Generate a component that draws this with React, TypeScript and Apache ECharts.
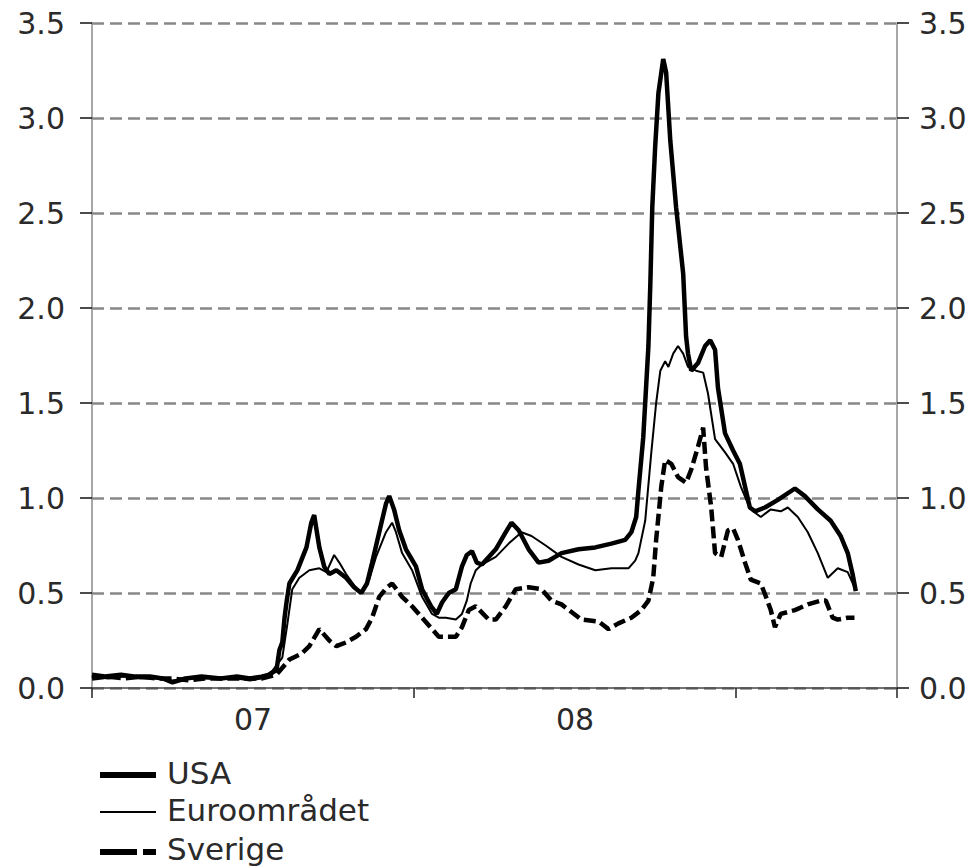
import React, { useEffect, useRef } from "react";
import * as echarts from "echarts";

// x values are decimal years (2007.0 = start of 2007)
const usa: [number, number][] = [
  [2007.0, 0.07], [2007.04, 0.06], [2007.09, 0.07], [2007.13, 0.06], [2007.18, 0.06],
  [2007.22, 0.05], [2007.25, 0.03], [2007.29, 0.05], [2007.34, 0.06], [2007.4, 0.05],
  [2007.45, 0.06], [2007.49, 0.05], [2007.526, 0.06], [2007.551, 0.07], [2007.573, 0.095],
  [2007.582, 0.2], [2007.591, 0.24], [2007.598, 0.37], [2007.604, 0.45], [2007.613, 0.55],
  [2007.638, 0.62], [2007.666, 0.74], [2007.681, 0.87], [2007.69, 0.91], [2007.706, 0.74],
  [2007.721, 0.64], [2007.737, 0.6], [2007.759, 0.62], [2007.789, 0.58], [2007.814, 0.53],
  [2007.836, 0.5], [2007.854, 0.55], [2007.87, 0.66], [2007.892, 0.82], [2007.913, 0.97],
  [2007.923, 1.01], [2007.938, 0.94], [2007.954, 0.83], [2007.975, 0.73], [2008.006, 0.64],
  [2008.025, 0.52], [2008.053, 0.43], [2008.071, 0.39], [2008.087, 0.45], [2008.108, 0.5],
  [2008.13, 0.52], [2008.149, 0.64], [2008.164, 0.7], [2008.18, 0.72], [2008.195, 0.66],
  [2008.211, 0.65], [2008.254, 0.73], [2008.285, 0.82], [2008.303, 0.87], [2008.325, 0.83],
  [2008.356, 0.73], [2008.387, 0.66], [2008.418, 0.67], [2008.458, 0.71], [2008.511, 0.73],
  [2008.563, 0.74], [2008.613, 0.76], [2008.656, 0.78], [2008.675, 0.82], [2008.69, 0.9],
  [2008.697, 1.04], [2008.712, 1.32], [2008.728, 1.8], [2008.734, 2.13], [2008.74, 2.53],
  [2008.749, 2.85], [2008.759, 3.13], [2008.774, 3.31], [2008.783, 3.24], [2008.796, 2.88],
  [2008.814, 2.53], [2008.836, 2.18], [2008.845, 1.85], [2008.851, 1.76], [2008.861, 1.67],
  [2008.882, 1.71], [2008.904, 1.8], [2008.92, 1.83], [2008.935, 1.78], [2008.944, 1.58],
  [2008.966, 1.34], [2008.991, 1.25], [2009.012, 1.18], [2009.028, 1.06], [2009.043, 0.95],
  [2009.059, 0.93], [2009.09, 0.95], [2009.13, 0.99], [2009.183, 1.05], [2009.214, 1.01],
  [2009.254, 0.94], [2009.294, 0.88], [2009.325, 0.8], [2009.347, 0.71], [2009.362, 0.6],
  [2009.372, 0.51],
];

const euro: [number, number][] = [
  [2007.0, 0.06], [2007.05, 0.05], [2007.1, 0.06], [2007.15, 0.05], [2007.2, 0.05],
  [2007.25, 0.04], [2007.3, 0.05], [2007.35, 0.05], [2007.4, 0.05], [2007.45, 0.05],
  [2007.49, 0.04], [2007.526, 0.05], [2007.56, 0.09], [2007.591, 0.16], [2007.607, 0.34],
  [2007.622, 0.52], [2007.644, 0.58], [2007.675, 0.62], [2007.706, 0.63], [2007.728, 0.61],
  [2007.752, 0.7], [2007.768, 0.66], [2007.789, 0.6], [2007.814, 0.54], [2007.836, 0.5],
  [2007.861, 0.57], [2007.882, 0.69], [2007.913, 0.82], [2007.932, 0.87], [2007.944, 0.82],
  [2007.963, 0.71], [2007.994, 0.62], [2008.025, 0.48], [2008.056, 0.39], [2008.077, 0.37],
  [2008.099, 0.37], [2008.13, 0.36], [2008.149, 0.39], [2008.164, 0.46], [2008.176, 0.55],
  [2008.192, 0.62], [2008.211, 0.65], [2008.254, 0.69], [2008.294, 0.76], [2008.334, 0.82],
  [2008.365, 0.8], [2008.409, 0.75], [2008.458, 0.69], [2008.511, 0.65], [2008.563, 0.62],
  [2008.613, 0.63], [2008.666, 0.63], [2008.687, 0.67], [2008.697, 0.71], [2008.718, 0.88],
  [2008.737, 1.24], [2008.752, 1.5], [2008.765, 1.67], [2008.78, 1.72], [2008.79, 1.69],
  [2008.805, 1.76], [2008.82, 1.8], [2008.836, 1.76], [2008.851, 1.69], [2008.876, 1.67],
  [2008.898, 1.66], [2008.913, 1.55], [2008.935, 1.31], [2008.966, 1.24], [2008.991, 1.18],
  [2009.015, 1.06], [2009.037, 0.97], [2009.053, 0.93], [2009.077, 0.9], [2009.108, 0.94],
  [2009.139, 0.93], [2009.161, 0.95], [2009.192, 0.9], [2009.223, 0.82], [2009.254, 0.71],
  [2009.285, 0.58], [2009.316, 0.63], [2009.347, 0.61], [2009.368, 0.53],
];

const sverige: [number, number][] = [
  [2007.0, 0.05], [2007.05, 0.06], [2007.1, 0.05], [2007.15, 0.06], [2007.2, 0.05],
  [2007.25, 0.05], [2007.3, 0.04], [2007.35, 0.05], [2007.4, 0.05], [2007.45, 0.05],
  [2007.49, 0.05], [2007.526, 0.05], [2007.573, 0.07], [2007.613, 0.15], [2007.65, 0.18],
  [2007.675, 0.22], [2007.706, 0.31], [2007.737, 0.25], [2007.759, 0.22], [2007.789, 0.24],
  [2007.82, 0.27], [2007.851, 0.31], [2007.87, 0.37], [2007.892, 0.48], [2007.916, 0.53],
  [2007.932, 0.55], [2007.963, 0.48], [2007.994, 0.43], [2008.025, 0.37], [2008.056, 0.31],
  [2008.077, 0.27], [2008.13, 0.27], [2008.149, 0.32], [2008.17, 0.41], [2008.192, 0.43],
  [2008.232, 0.36], [2008.254, 0.36], [2008.285, 0.43], [2008.316, 0.52], [2008.356, 0.53],
  [2008.396, 0.52], [2008.427, 0.46], [2008.458, 0.44], [2008.489, 0.4], [2008.52, 0.36],
  [2008.573, 0.35], [2008.604, 0.31], [2008.635, 0.34], [2008.675, 0.37], [2008.706, 0.41],
  [2008.728, 0.46], [2008.743, 0.58], [2008.752, 0.78], [2008.768, 1.06], [2008.78, 1.2],
  [2008.799, 1.18], [2008.82, 1.11], [2008.845, 1.08], [2008.861, 1.15], [2008.882, 1.27],
  [2008.898, 1.37], [2008.907, 1.16], [2008.923, 0.95], [2008.935, 0.71], [2008.954, 0.69],
  [2008.975, 0.83], [2008.991, 0.84], [2009.006, 0.78], [2009.028, 0.66], [2009.046, 0.57],
  [2009.077, 0.55], [2009.093, 0.48], [2009.108, 0.41], [2009.121, 0.32], [2009.139, 0.39],
  [2009.183, 0.41], [2009.223, 0.44], [2009.263, 0.46], [2009.279, 0.46], [2009.3, 0.37],
  [2009.316, 0.36], [2009.347, 0.37], [2009.368, 0.37],
];

const seriesNames = ["USA", "Euroområdet", "Sverige"];
const yearTickLabels: Record<string, string> = { "2007.5": "07", "2008.5": "08" };

const FONT = "DejaVu Sans";

export default function App() {
  const ref = useRef<HTMLDivElement>(null);

  useEffect(() => {
    document.body.style.margin = "0";
    if (!ref.current) return;
    const chart = echarts.init(ref.current, undefined, { renderer: "svg" });

    const yAxisCommon = {
      type: "value" as const,
      min: 0,
      max: 3.5,
      interval: 0.5,
      axisLine: { show: true, lineStyle: { color: "#8a8a8a", width: 1.5 } },
      axisTick: { show: true, length: 12, lineStyle: { color: "#111", width: 1.5 } },
    };
    const labelCommon = {
      show: true,
      formatter: (v: number) => v.toFixed(1),
      color: "#2a2a2a",
      fontFamily: FONT,
      fontSize: 30,
    };

    const legendItems = [
      { name: seriesNames[0], y: 775, textY: 773, width: 6, dash: null as number[] | null },
      { name: seriesNames[1], y: 812, textY: 810, width: 2, dash: null },
      { name: seriesNames[2], y: 852, textY: 849, width: 6, dash: [37, 6, 13, 100] },
    ];

    const graphic: any[] = [];
    legendItems.forEach((it) => {
      graphic.push({
        type: "line",
        shape: { x1: 100, y1: it.y, x2: 156, y2: it.y },
        style: { stroke: "#000", lineWidth: it.width, lineDash: it.dash || undefined },
      });
      graphic.push({
        type: "text",
        x: 167,
        y: it.textY,
        style: {
          text: it.name,
          fill: "#2a2a2a",
          font: `31px '${FONT}'`,
          verticalAlign: "middle",
          align: "left",
        },
      });
    });

    chart.setOption({
      animation: false,
      backgroundColor: "#fff",
      grid: { left: 92, right: 77, top: 23, bottom: 179, containLabel: false },
      xAxis: [
        {
          type: "value",
          min: 2007,
          max: 2009.5,
          interval: 1,
          position: "bottom",
          axisLine: { show: true, onZero: false, lineStyle: { color: "#444", width: 1.5 } },
          axisTick: { show: true, length: 10, lineStyle: { color: "#222", width: 1.5 } },
          axisLabel: { show: false },
          splitLine: { show: false },
        },
        {
          type: "value",
          min: 2007,
          max: 2009.5,
          interval: 0.5,
          position: "bottom",
          axisLine: { show: false },
          axisTick: { show: false },
          splitLine: { show: false },
          axisLabel: {
            show: true,
            margin: 16,
            color: "#2a2a2a",
            fontFamily: FONT,
            fontSize: 30,
            formatter: (v: number) => yearTickLabels[String(v)] || "",
          },
        },
      ],
      yAxis: [
        {
          ...yAxisCommon,
          position: "left",
          axisLabel: { ...labelCommon, margin: 27 },
          splitLine: {
            show: true,
            lineStyle: { color: "#888", width: 2.5, type: [12, 6] },
          },
        },
        {
          ...yAxisCommon,
          position: "right",
          axisLabel: { ...labelCommon, margin: 22 },
          splitLine: { show: false },
        },
      ],
      graphic,
      series: [
        {
          name: seriesNames[0],
          type: "line",
          data: usa,
          showSymbol: false,
          lineStyle: { color: "#000", width: 4.5 },
          z: 4,
        },
        {
          name: seriesNames[1],
          type: "line",
          data: euro,
          showSymbol: false,
          lineStyle: { color: "#000", width: 2 },
          z: 3,
        },
        {
          name: seriesNames[2],
          type: "line",
          data: sverige,
          showSymbol: false,
          lineStyle: { color: "#000", width: 4.5, type: [12, 5] },
          z: 3,
        },
      ],
    });

    return () => chart.dispose();
  }, []);

  return <div ref={ref} style={{ width: 974, height: 867 }} />;
}
